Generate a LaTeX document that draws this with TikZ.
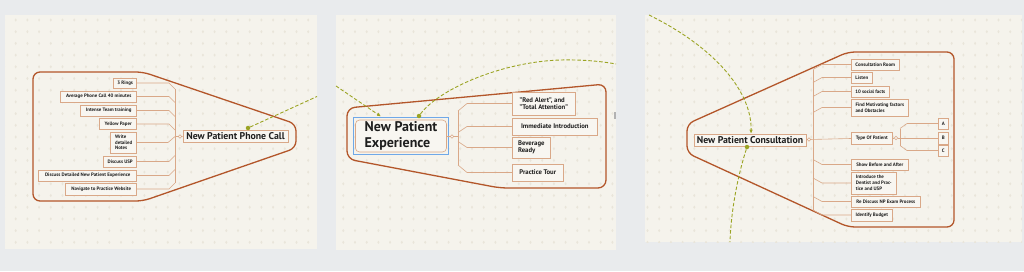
\documentclass[tikz,border=0pt]{standalone}
\usepackage{fontspec}
\setmainfont{PT Sans}
\usetikzlibrary{arrows.meta}
\definecolor{outerbg}{HTML}{E9EBED}
\definecolor{panel}{HTML}{F5F3EC}
\definecolor{dotc}{HTML}{E9E5DA}
\definecolor{tanc}{HTML}{D9A888}
\definecolor{kidfill}{HTML}{F8F6F1}
\definecolor{rust}{HTML}{B3562A}
\definecolor{olive}{HTML}{9BA424}
\definecolor{ink}{HTML}{1E1E1E}
\definecolor{selblue}{HTML}{6FA8E8}
\tikzset{
  kid/.style={draw=tanc, fill=kidfill, line width=0.6pt, inner sep=0pt, text=ink,
    font=\bfseries\fontsize{4.9}{5.7}\selectfont, align=left},
  midkid/.style={kid, font=\bfseries\fontsize{6.7}{7.6}\selectfont},
  hub/.style={draw=tanc, fill=kidfill, line width=0.6pt, inner sep=0pt, text=ink,
    font=\bfseries\fontsize{9.8}{11}\selectfont},
  conn/.style={draw=tanc, line width=0.6pt},
  knob/.style={circle, draw=tanc, fill=kidfill, line width=0.5pt, inner sep=0pt, minimum size=3.6pt},
  fence/.style={draw=rust, line width=1.3pt, rounded corners=7pt},
  rel/.style={draw=olive, line width=0.9pt, dash pattern=on 3.5pt off 2pt},
  relend/.style={circle, fill=olive, inner sep=0pt, minimum size=4.5pt},
  reltip/.style={-{Latex[length=4pt,width=3.5pt]}}
}
\begin{document}
\begin{tikzpicture}[x=1pt,y=-1pt]
\useasboundingbox (0,0) rectangle (1024,271);
\fill[outerbg] (0,0) rectangle (1024,271);
% panels
\fill[panel] (5,15) rectangle (317,249);
\fill[panel] (336,15) rectangle (616,250);
\fill[panel] (645,15) rectangle (1022,242);
\begin{scope}
\clip (5,15) rectangle (317,249);
\foreach \i in {0,...,27}{\foreach \j in {0,...,19}{
  \fill[dotc] (4+11.7*\i,20+11.7*\j) ellipse [x radius=1.1, y radius=1.6];}}
\end{scope}
\begin{scope}
\clip (336,15) rectangle (616,250);
\foreach \i in {28,...,53}{\foreach \j in {0,...,19}{
  \fill[dotc] (4+11.7*\i,20+11.7*\j) ellipse [x radius=1.1, y radius=1.6];}}
\end{scope}
\begin{scope}
\clip (645,15) rectangle (1022,242);
\foreach \i in {54,...,87}{\foreach \j in {0,...,19}{
  \fill[dotc] (4+11.7*\i,20+11.7*\j) ellipse [x radius=1.1, y radius=1.6];}}
\end{scope}
\fill[gray!60] (614,112) rectangle (616,119);

% ===== left panel: New Patient Phone Call =====
\draw[fence] (33,72) -- (143,72) -- (296,124) -- (296,148) -- (143,201) -- (33,201) -- cycle;
\node[hub, minimum width=105pt, minimum height=12pt] (lc) at (235.5,136) {New Patient Phone Call};
\node[knob] (lk) at (180,136.5) {};
\node[kid, anchor=east, minimum width=23pt, minimum height=10pt] (c1) at (137,83) {3 Rings};
\node[kid, anchor=east, minimum width=76pt, minimum height=11pt] (c2) at (137,96.5) {Average Phone Call 40 minutes};
\node[kid, anchor=east, minimum width=56pt, minimum height=11pt] (c3) at (137,110.5) {Intense Team training};
\node[kid, anchor=east, minimum width=37pt, minimum height=11pt] (c4) at (137,124) {Yellow Paper};
\node[kid, anchor=east, minimum width=26pt, minimum height=21pt] (c5) at (137,142.5) {Write\\detailed\\Notes};
\node[kid, anchor=east, minimum width=33pt, minimum height=11pt] (c6) at (137,161.5) {Discuss USP};
\node[kid, anchor=east, minimum width=98pt, minimum height=11pt] (c7) at (137,175.5) {Discuss Detailed New Patient Experience};
\node[kid, anchor=east, minimum width=71pt, minimum height=12pt] (c8) at (137,189) {Navigate to Practice Website};
\coordinate (ls1) at (175,89);
\coordinate (ls2) at (175,183);
\coordinate (lsm) at (175,136.5);
\draw[conn] (ls1) -- (ls2);
\draw[conn] (lsm) -- (lk) -- (lc);
\draw[conn] (c1.east) -- ++(32,0) -- (ls1);
\draw[conn] (c2.east) -- ++(32,0) -- ++(6,6);
\draw[conn] (c3.east) -- ++(32,0) -- ++(6,6);
\draw[conn] (c4.east) -- ++(32,0) -- ++(6,6);
\draw[conn] (c5.east) -- ++(31,0) -- (lsm);
\draw[conn] (c6.east) -- ++(32,0) -- ++(6,-6);
\draw[conn] (c7.east) -- ++(32,0) -- ++(6,-6);
\draw[conn] (c8.east) -- ++(32,0) -- (ls2);
\node[relend] (ld) at (248,128) {};
\coordinate (lout) at (317,96.5);
\draw[rel] (ld) -- (lout);

% ===== middle panel: New Patient Experience =====
\draw[fence, rounded corners=8pt] (347,108) -- (606,84) -- (606,188) -- (500,188) -- (347,159) -- cycle;
\node[draw=selblue, line width=1pt, minimum width=95pt, minimum height=37pt, inner sep=0pt] (msel) at (400.5,135.5) {};
\node[hub, rounded corners=4pt, minimum width=91pt, minimum height=32pt, align=left,
  font=\bfseries\fontsize{14}{15.5}\selectfont] (mc) at (401,136) {New Patient\\Experience};
\node[knob] (mk) at (452,136.5) {};
\node[midkid, anchor=west, minimum width=63pt, minimum height=23pt] (m1) at (512,103.5) {"Red Alert", and\\"Total Attention"};
\node[midkid, anchor=west, minimum width=85pt, minimum height=17pt] (m2) at (512,126.5) {Immediate Introduction};
\node[midkid, anchor=west, minimum width=38pt, minimum height=21pt] (m3) at (512,147.5) {Beverage\\Ready\hphantom{ge}};
\node[midkid, anchor=west, minimum width=51pt, minimum height=17pt] (m4) at (512,172.5) {Practice Tour};
\coordinate (ms1) at (458,111);
\coordinate (ms2) at (458,165);
\coordinate (msm) at (458,136.5);
\draw[conn] (ms1) -- (ms2);
\draw[conn] (mc) -- (mk) -- (msm);
\draw[conn] (m1.west) -- ++(-45,0) -- (ms1);
\draw[conn] (m2.west) -- ++(-45,0) -- ++(-9,6);
\draw[conn] (m3.west) -- ++(-45,0) -- ++(-9,-6);
\draw[conn] (m4.west) -- ++(-45,0) -- (ms2);
\coordinate (min) at (336,86);
\draw[rel, reltip] (min) -- (msel.north west -| 381,0) ;
\node[relend] (md) at (419,116) {};
\coordinate (mtop) at (560,60);
\coordinate (mout) at (616,64);
\draw[rel] (md) .. controls (438,90) and (500,62) .. (mtop) .. controls (580,59.5) and (600,61) .. (mout);

% ===== right panel: New Patient Consultation =====
\draw[fence] (687,124) -- (848,52) -- (954,52) -- (954,227) -- (848,227) -- (687,153) -- cycle;
\node[hub, minimum width=112pt, minimum height=12pt] (rc) at (750,140) {New Patient Consultation};
\node[knob] (rk) at (809,139.5) {};
\node[kid, anchor=west, minimum width=48pt, minimum height=11pt] (r1) at (851,64.5) {Consultation Room};
\node[kid, anchor=west, minimum width=21pt, minimum height=11pt] (r2) at (851,77.5) {Listen};
\node[kid, anchor=west, minimum width=38pt, minimum height=11pt] (r3) at (851,91.5) {10 social facts};
\node[kid, anchor=west, minimum width=57pt, minimum height=17pt] (r4) at (851,107.5) {Find Motivating factors\\and Obstacles};
\node[kid, anchor=west, minimum width=41pt, minimum height=12pt] (r5) at (851,138) {Type Of Patient};
\node[kid, anchor=west, minimum width=57pt, minimum height=11pt] (r6) at (851,164.5) {Show Before and After};
\node[kid, anchor=west, minimum width=45pt, minimum height=22pt] (r7) at (851,183) {Introduce the\\Dentist and Prac-\\tice and USP};
\node[kid, anchor=west, minimum width=69pt, minimum height=11pt] (r8) at (851,201.5) {Re Discuss NP Exam Process};
\node[kid, anchor=west, minimum width=41pt, minimum height=12pt] (r9) at (851,215) {Identify Budget};
\node[knob] (tk) at (896,138) {};
\node[kid, anchor=west, minimum width=10pt, minimum height=11pt, align=center] (ta) at (938,123.5) {A};
\node[kid, anchor=west, minimum width=10pt, minimum height=12pt, align=center] (tb) at (938,138) {B};
\node[kid, anchor=west, minimum width=10pt, minimum height=11pt, align=center] (tc) at (938,150.5) {C};
\coordinate (rs1) at (813,69.5);
\coordinate (rs2) at (813,210);
\draw[conn] (rs1) -- (rs2);
\draw[conn] (rc) -- (rk) -- (r5);
\draw[conn] (r1.west) -- ++(-29,0) -- (rs1);
\draw[conn] (r2.west) -- ++(-29,0) -- ++(-9,5);
\draw[conn] (r3.west) -- ++(-29,0) -- ++(-9,5);
\draw[conn] (r4.west) -- ++(-29,0) -- ++(-9,5);
\draw[conn] (r6.west) -- ++(-29,0) -- ++(-9,-5);
\draw[conn] (r7.west) -- ++(-29,0) -- ++(-9,-5);
\draw[conn] (r8.west) -- ++(-29,0) -- ++(-9,-5);
\draw[conn] (r9.west) -- ++(-29,0) -- (rs2);
\coordinate (ts1) at (900,128.5);
\coordinate (ts2) at (900,145.5);
\draw[conn] (ts1) -- (ts2);
\draw[conn] (r5) -- (tk) -- (tb);
\draw[conn] (ta.west) -- ++(-31,0) -- (ts1);
\draw[conn] (tc.west) -- ++(-31,0) -- (ts2);
\coordinate (rin) at (649,15);
\draw[rel, reltip] (rin) .. controls (720,50) and (752,95) .. (rc.north -| 751,0);
\node[relend] (rd) at (747,147) {};
\coordinate (rout) at (730,242);
\draw[rel] (rd) .. controls (738,175) and (731,210) .. (rout);
\end{tikzpicture}
\end{document}
